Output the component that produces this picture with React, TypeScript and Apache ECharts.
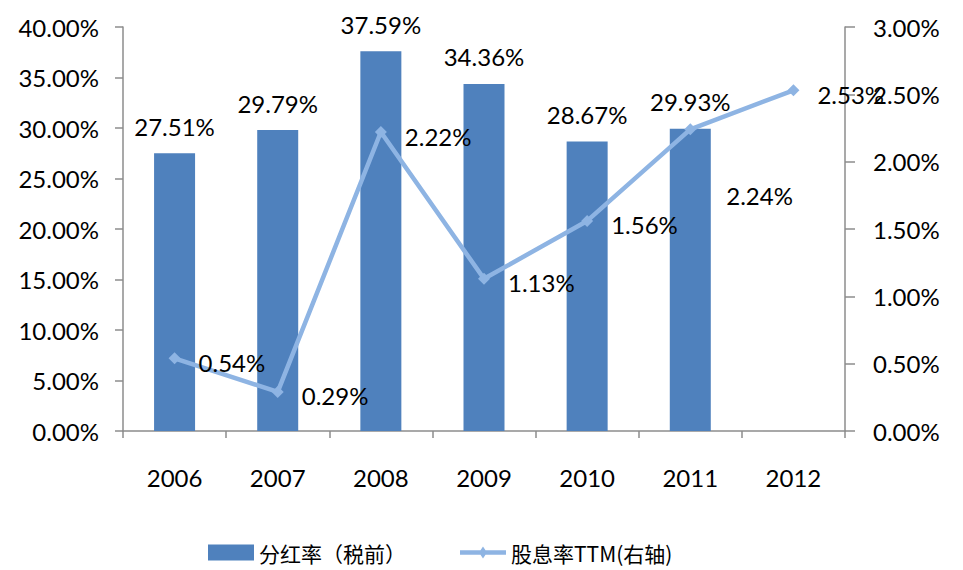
import React, { useEffect, useRef } from "react";
import * as echarts from "echarts";

const categories = ["2006", "2007", "2008", "2009", "2010", "2011", "2012"];
const payoutRatio = [27.51, 29.79, 37.59, 34.36, 28.67, 29.93, null];
const dividendYield = [0.54, 0.29, 2.22, 1.13, 1.56, 2.24, 2.53];
const barName = "分红率（税前）";
const lineName = "股息率TTM(右轴)";

const FONT = "Lato, 'Noto Sans CJK SC', sans-serif";
const FS = 24;
const AXIS_GRAY = "#8c8c8c";
const LINE_COLOR = "#8EB4E3";
const LINE_ICON =
  "path://M0,5.75L46,5.75L46,10.25L0,10.25Z M19,8L23,2L27,8L23,14Z";

export default function App() {
  const ref = useRef<HTMLDivElement>(null);
  useEffect(() => {
    if (!ref.current) return;
    const chart = echarts.init(ref.current, null, { renderer: "svg" });
    const pct = (v: number) => `${Number(v).toFixed(2)}%`;
    chart.setOption({
      animation: false,
      textStyle: { fontFamily: FONT },
      grid: { left: 123, right: 118, top: 27, bottom: 139 },
      legend: {
        left: 203,
        top: 537,
        itemWidth: 46,
        itemHeight: 16,
        itemGap: 54,
        itemTextGap: 6,
        itemStyle: { borderWidth: 0 },
        textStyle: { fontSize: 21, color: "#000", fontFamily: "'Noto Sans CJK SC', sans-serif" },
        data: [
          { name: barName, icon: "rect" },
          { name: lineName, icon: LINE_ICON, itemStyle: { color: LINE_COLOR } },
        ],
      },
      xAxis: {
        type: "category",
        data: categories,
        boundaryGap: true,
        axisLine: { lineStyle: { color: AXIS_GRAY, width: 1.5 } },
        axisTick: { show: true, length: 7, lineStyle: { color: AXIS_GRAY, width: 1.5 } },
        axisLabel: { margin: 34, fontSize: FS, color: "#000", fontFamily: FONT },
      },
      yAxis: [
        {
          type: "value",
          min: 0,
          max: 40,
          interval: 5,
          splitLine: { show: false },
          axisLine: { show: true, lineStyle: { color: AXIS_GRAY, width: 1.5 } },
          axisTick: { show: true, length: 8, lineStyle: { color: AXIS_GRAY, width: 1.5 } },
          axisLabel: { margin: 24, fontSize: FS, color: "#000", formatter: pct, fontFamily: FONT },
        },
        {
          type: "value",
          min: 0,
          max: 3,
          interval: 0.5,
          position: "right",
          splitLine: { show: false },
          axisLine: { show: true, lineStyle: { color: AXIS_GRAY, width: 1.5 } },
          axisTick: { show: true, length: 10, lineStyle: { color: AXIS_GRAY, width: 1.5 } },
          axisLabel: { margin: 28, fontSize: FS, color: "#000", formatter: pct, fontFamily: FONT },
        },
      ],
      series: [
        {
          name: barName,
          type: "bar",
          data: payoutRatio,
          barWidth: 41,
          yAxisIndex: 0,
          itemStyle: { color: "#4F81BD" },
          label: {
            show: true,
            position: "top",
            distance: 15,
            fontSize: FS,
            color: "#000",
            fontFamily: FONT,
            formatter: (p: any) => pct(p.value),
          },
          z: 1,
        },
        {
          name: lineName,
          type: "line",
          data: dividendYield.map((v, i) =>
            i === 5
              ? { value: v, label: { offset: [12, 66] } }
              : { value: v }
          ),
          yAxisIndex: 1,
          symbol: "diamond",
          symbolSize: 12,
          lineStyle: { color: LINE_COLOR, width: 4.5 },
          itemStyle: { color: LINE_COLOR },
          label: {
            show: true,
            position: "right",
            distance: 18,
            offset: [0, 4],
            fontSize: FS,
            color: "#000",
            fontFamily: FONT,
            formatter: (p: any) => pct(p.value),
          },
          z: 3,
        },
      ],
    });
    return () => chart.dispose();
  }, []);
  return (
    <div
      ref={ref}
      style={{ position: "absolute", left: 0, top: 0, width: 963, height: 570, background: "#fff" }}
    />
  );
}
